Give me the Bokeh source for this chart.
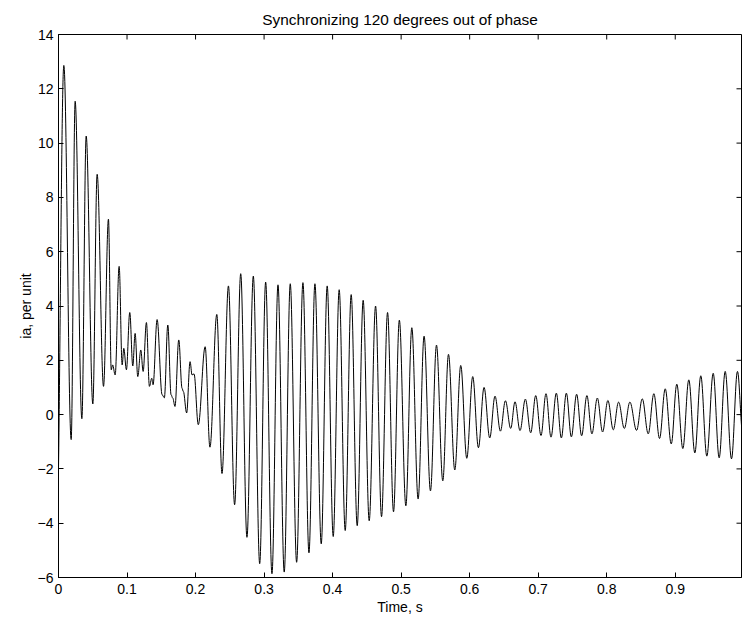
import math
import numpy as np
from bokeh.plotting import figure
from bokeh.models import FixedTicker, Range1d
from bokeh.embed import file_html
from bokeh.resources import INLINE

# Extrema of the phase-a current (time in s, current in per unit)
time_s = [
    0.0000, 0.0078, 0.0185, 0.0243, 0.0341, 0.0404, 0.0501, 0.0564, 0.0657, 0.0729,
    0.0770, 0.0790, 0.0827, 0.0885, 0.0929, 0.0953, 0.0991, 0.1040, 0.1084, 0.1118,
    0.1157, 0.1201, 0.1235, 0.1283, 0.1327, 0.1361, 0.1380, 0.1439, 0.1512, 0.1545,
    0.1595, 0.1643, 0.1667, 0.1700, 0.1755, 0.1803, 0.1822, 0.1870, 0.1920, 0.1949,
    0.1978, 0.2040, 0.2140, 0.2210, 0.2310, 0.2386, 0.2480, 0.2570, 0.2659, 0.2750,
    0.2843, 0.2936, 0.3023, 0.3115, 0.3203, 0.3294, 0.3382, 0.3475, 0.3567, 0.3655,
    0.3742, 0.3834, 0.3921, 0.4009, 0.4096, 0.4184, 0.4271, 0.4359, 0.4446, 0.4534,
    0.4627, 0.4714, 0.4802, 0.4889, 0.4974, 0.5069, 0.5156, 0.5248, 0.5335, 0.5428,
    0.5516, 0.5608, 0.5691, 0.5783, 0.5870, 0.5958, 0.6045, 0.6128, 0.6210, 0.6293,
    0.6370, 0.6449, 0.6522, 0.6599, 0.6662, 0.6735, 0.6813, 0.6891, 0.6964, 0.7041,
    0.7114, 0.7187, 0.7265, 0.7338, 0.7411, 0.7484, 0.7561, 0.7634, 0.7711, 0.7784,
    0.7863, 0.7940, 0.8017, 0.8096, 0.8173, 0.8257, 0.8338, 0.8436, 0.8519, 0.8606,
    0.8688, 0.8771, 0.8854, 0.8942, 0.9023, 0.9111, 0.9198, 0.9286, 0.9373, 0.9461,
    0.9554, 0.9641, 0.9729, 0.9821, 0.9908, 0.9967,
]
ia_pu = [
    -2.00, 12.86, -0.92, 11.54, -0.15, 10.26, 0.39, 8.85, 1.04, 7.20,
    1.65, 1.83, 1.46, 5.46, 1.83, 2.44, 1.65, 3.76, 1.79, 2.99,
    1.40, 2.38, 1.59, 3.39, 1.04, 1.34, 1.10, 3.50, 0.73, 0.62,
    3.30, 0.73, 0.61, 0.30, 2.75, 0.97, 0.85, 0.06, 1.95, 1.46,
    1.50, -0.37, 2.50, -1.20, 3.69, -2.17, 4.74, -3.32, 5.19, -4.52,
    5.10, -5.49, 4.88, -5.86, 4.78, -5.80, 4.82, -5.44, 4.86, -5.09,
    4.82, -4.76, 4.74, -4.49, 4.60, -4.27, 4.42, -4.09, 4.21, -3.91,
    4.00, -3.76, 3.76, -3.58, 3.48, -3.36, 3.20, -3.11, 2.89, -2.81,
    2.56, -2.44, 2.22, -2.04, 1.81, -1.61, 1.40, -1.22, 1.00, -0.86,
    0.68, -0.61, 0.51, -0.51, 0.47, -0.59, 0.57, -0.67, 0.70, -0.77,
    0.77, -0.83, 0.79, -0.86, 0.79, -0.82, 0.75, -0.78, 0.70, -0.71,
    0.61, -0.64, 0.52, -0.56, 0.46, -0.51, 0.46, -0.58, 0.58, -0.71,
    0.77, -0.88, 0.95, -1.08, 1.12, -1.25, 1.28, -1.41, 1.43, -1.53,
    1.52, -1.59, 1.59, -1.63, 1.59, -0.40,
]

x_ticks = [0, 0.1, 0.2, 0.3, 0.4, 0.5, 0.6, 0.7, 0.8, 0.9]
x_tick_labels = ["0", "0.1", "0.2", "0.3", "0.4", "0.5", "0.6", "0.7", "0.8", "0.9"]
y_ticks = [-6, -4, -2, 0, 2, 4, 6, 8, 10, 12, 14]
y_tick_labels = ["\u22126", "\u22124", "\u22122", "0", "2", "4", "6", "8", "10", "12", "14"]

title_text = "Synchronizing 120 degrees out of phase"
x_label = "Time, s"
y_label = "ia, per unit"

x_min, x_max = 0.0, 0.9967
y_min, y_max = -6.0, 14.0

FONT = "Liberation Sans"

p = figure(width=742, height=620, output_backend="svg", toolbar_location=None,
           x_range=Range1d(x_min, x_max), y_range=Range1d(y_min, y_max),
           min_border_left=58, min_border_right=1, min_border_top=34, min_border_bottom=43,
           title=title_text)
p.title.align = "center"
p.title.text_font = FONT
p.title.text_font_size = "15.4px"
p.title.text_font_style = "normal"
p.title.text_color = "black"
p.title.standoff = 13

p.grid.visible = False
p.outline_line_color = "black"
p.outline_line_width = 1
p.background_fill_color = "white"
p.border_fill_color = "white"

def style(ax, ticks, labels):
    ax.ticker = FixedTicker(ticks=ticks)
    ax.major_tick_in = 5
    ax.major_tick_out = 0
    ax.minor_tick_line_color = None
    ax.axis_line_color = "black"
    ax.major_tick_line_color = "black"
    ax.major_label_overrides = {t: l for t, l in zip(ticks, labels)}
    ax.major_label_text_font = FONT
    ax.major_label_text_font_size = "14px"
    ax.major_label_text_color = "black"
    ax.axis_label_text_font = FONT
    ax.axis_label_text_font_size = "14px"
    ax.axis_label_text_font_style = "normal"
    ax.axis_label_text_color = "black"

xa = p.xaxis[0]
style(xa, x_ticks, x_tick_labels)
xa.major_label_standoff = 6
xa.axis_label = x_label
xa.axis_label_standoff = 2

ya = p.yaxis[0]
style(ya, y_ticks, y_tick_labels)
ya.major_label_standoff = 5
ya.axis_label = y_label
ya.axis_label_standoff = 1

# mirrored inward ticks on the top and right edges of the box
p.ray(x=x_ticks, y=[y_max] * len(x_ticks), length=5, length_units="screen",
      angle=-math.pi / 2, line_color="black", line_width=1)
p.ray(x=[x_max] * len(y_ticks), y=y_ticks, length=5, length_units="screen",
      angle=math.pi, line_color="black", line_width=1)

# smooth curve through the read extrema (horizontal tangents at each extremum)
t = np.array(time_s)
v = np.array(ia_pu)
x0, x1 = t[:-1], t[1:]
y0, y1 = v[:-1], v[1:]
dt = x1 - x0
k = 0.364
cx0 = x0 + k * dt
cx1 = x1 - k * dt
cy0 = y0.copy()
cy1 = y1.copy()
# first and last samples are not extrema: keep those ends along the chord
cy0[0] = y0[0] + k * (y1[0] - y0[0])
cy1[-1] = y1[-1] - k * (y1[-1] - y0[-1])
p.bezier(x0=x0, y0=y0, x1=x1, y1=y1, cx0=cx0, cy0=cy0, cx1=cx1, cy1=cy1,
         line_color="black", line_width=1)

open("out.html", "w").write(file_html(p, INLINE))
